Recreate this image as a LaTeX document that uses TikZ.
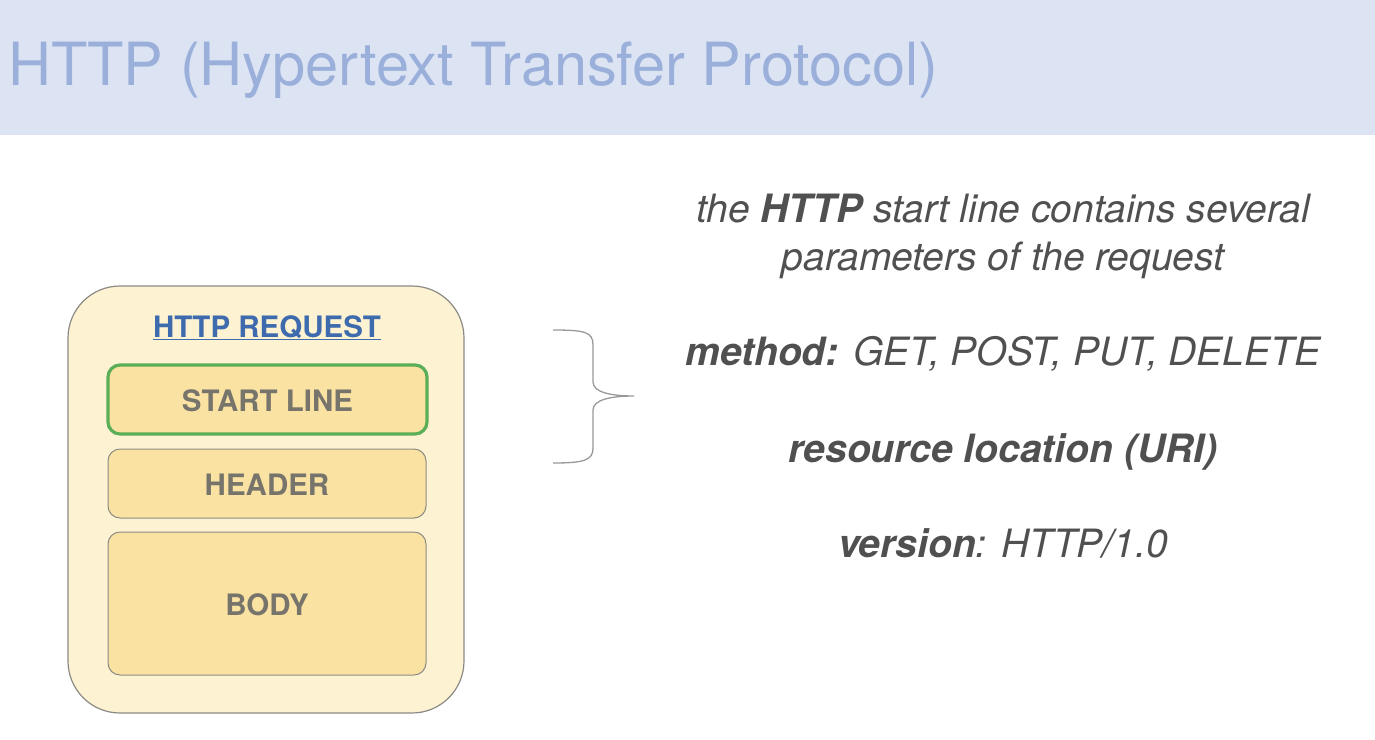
\documentclass[tikz,border=0pt]{standalone}
\usepackage{fontspec}
\setmainfont{TeX Gyre Heros}
\definecolor{bandblue}{HTML}{DCE3F3}
\definecolor{titleblue}{HTML}{9AAFDA}
\definecolor{outerfill}{HTML}{FDF2D2}
\definecolor{innerfill}{HTML}{FAE3A2}
\definecolor{boxline}{HTML}{8C8A84}
\definecolor{greenline}{HTML}{5AAE58}
\definecolor{reqblue}{HTML}{3E6BAE}
\definecolor{labelgray}{HTML}{77746C}
\definecolor{textgray}{HTML}{505050}
\tikzset{
  outerbox/.style={draw=boxline, line width=1.2pt, fill=outerfill, rounded corners=52pt},
  partbox/.style={draw=boxline, line width=1pt, fill=innerfill, rounded corners=12pt},
  partlabel/.style={font=\fontsize{29.5}{32}\selectfont\bfseries, text=labelgray},
  rtext/.style={font=\fontsize{39}{44}\selectfont\itshape, text=textgray, anchor=base, align=center},
}
\begin{document}
\begin{tikzpicture}[x=1pt,y=-1pt]
\useasboundingbox (0,0) rectangle (1375,739);
\fill[white] (0,0) rectangle (1375,739);
\fill[bandblue] (0,0) rectangle (1375,135);
\node[anchor=base west, inner sep=0, text=titleblue, font=\fontsize{59.5}{70}\selectfont] (title) at (8,85) {HTTP (Hypertext Transfer Protocol)};

\draw[outerbox] (68,286) rectangle (464,713);
\node[anchor=base, inner sep=0, text=reqblue, font=\fontsize{29.5}{32}\selectfont\bfseries] (req) at (267,337) {\underline{HTTP REQUEST}};

\draw[partbox, draw=greenline, line width=3.2pt] (108,365) rectangle (427,434);
\node[partlabel, anchor=base] (start) at (267.5,411) {START LINE};
\draw[partbox] (108,449) rectangle (426,518);
\node[partlabel, anchor=base] (header) at (267,495) {HEADER};
\draw[partbox] (108,532) rectangle (426,675);
\node[partlabel, anchor=base] (body) at (267,615) {BODY};

\draw[draw=gray!80, line width=1.3pt]
  (553,330) .. controls (585,330) and (593,332) .. (593,345)
  -- (593,382) .. controls (593,392) and (610,396) .. (634,396)
  .. controls (610,396) and (593,400) .. (593,410)
  -- (593,448) .. controls (593,460) and (585,463) .. (553,463);

\node[rtext] (l1) at (1003,222) {the \textbf{HTTP} start line contains several};
\node[rtext] (l2) at (1003,270) {parameters of the request};
\node[rtext] (l3) at (1003,365) {\textbf{method:} GET, POST, PUT, DELETE};
\node[rtext] (l4) at (1003,462) {\textbf{resource location (URI)}};
\node[rtext] (l5) at (1003,557) {\textbf{version}: HTTP/1.0};
\end{tikzpicture}
\end{document}
